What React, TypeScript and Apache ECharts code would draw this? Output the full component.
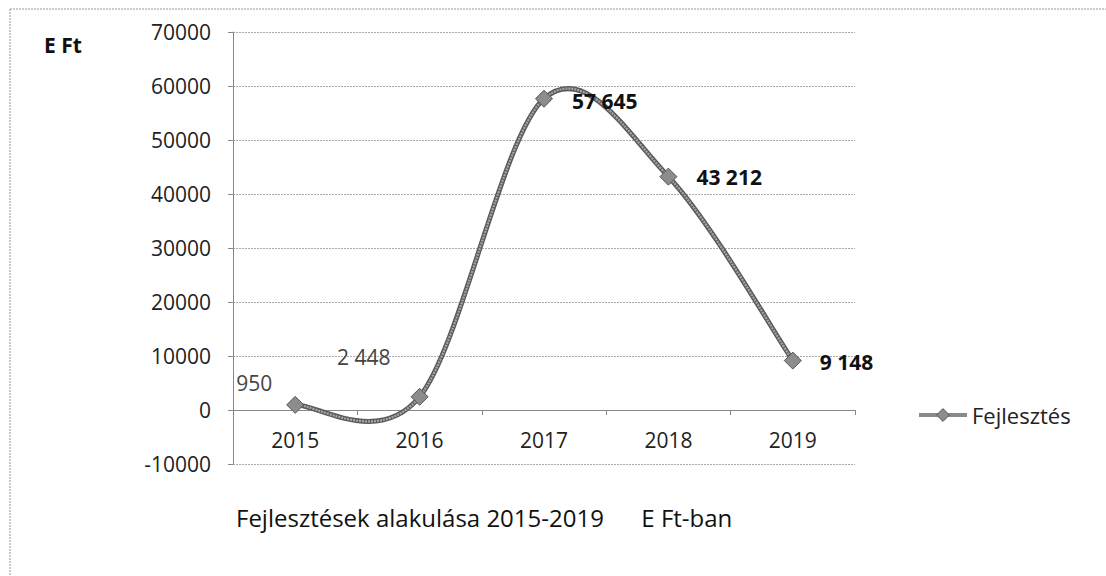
import React, { useEffect, useRef } from "react";
import * as echarts from "echarts";

const categories = ["2015", "2016", "2017", "2018", "2019"];
const values = [950, 2448, 57645, 43212, 9148];
const valueLabels = ["950", "2 448", "57 645", "43 212", "9 148"];
const seriesName = "Fejlesztés";
const unitLabel = "E Ft";
const titleText = "Fejlesztések alakulása 2015-2019      E Ft-ban";

const FONT = "'Open Sans', 'Noto Sans', sans-serif";

export default function App() {
  const ref = useRef<HTMLDivElement>(null);
  useEffect(() => {
    if (!ref.current) return;
    const chart = echarts.init(ref.current, undefined, { renderer: "svg" });
    const labelCfg: any[] = [
      { position: "left", offset: [-9, -22], color: "#444", fontWeight: "normal" },
      { position: "left", offset: [-15, -40], color: "#444", fontWeight: "normal" },
      { position: "right", offset: [14, 2], color: "#111", fontWeight: "bold" },
      { position: "right", offset: [14, 0], color: "#111", fontWeight: "bold" },
      { position: "right", offset: [13, 1], color: "#111", fontWeight: "bold" },
    ];
    const n = values.length;
    const renderCurve = (params: any, api: any) => {
      const i = params.dataIndex;
      if (i >= n - 1) return null;
      const p = (j: number) => {
        const k = Math.max(0, Math.min(n - 1, j));
        return api.coord([k, values[k]]);
      };
      const p0 = p(i - 1), p1 = p(i), p2 = p(i + 1), p3 = p(i + 2);
      const shape = {
        x1: p1[0], y1: p1[1],
        x2: p2[0], y2: p2[1],
        cpx1: p1[0] + (p2[0] - p0[0]) / 6,
        cpy1: p1[1] + (p2[1] - p0[1]) / 6,
        cpx2: p2[0] - (p3[0] - p1[0]) / 6,
        cpy2: p2[1] - (p3[1] - p1[1]) / 6,
      };
      return {
        type: "group",
        children: [
          { type: "bezierCurve", shape, style: { stroke: "#5a5a5a", lineWidth: 5, fill: "none" } },
          { type: "bezierCurve", shape, style: { stroke: "#a8a8a8", lineWidth: 2.2, fill: "none", lineDash: [2, 1] } },
        ],
      };
    };
    chart.setOption({
      animation: false,
      backgroundColor: "#fff",
      textStyle: { fontFamily: FONT },
      grid: { left: 233, right: 251, top: 32, bottom: 112 },
      legend: {
        left: 912,
        top: 399,
        itemWidth: 48,
        itemHeight: 16,
        itemGap: 4,
        textStyle: { fontFamily: FONT, fontSize: 22, color: "#222" },
        data: [
          {
            name: seriesName,
            lineStyle: { color: "#8a8a8a", width: 4, opacity: 1 },
            itemStyle: { color: "#8c8c8c", borderColor: "#555", borderWidth: 1 },
          },
        ],
      },
      graphic: [
        {
          type: "rect",
          shape: { x: 10, y: 9, width: 1120, height: 600 },
          style: { fill: "none", stroke: "#999", lineWidth: 1, lineDash: [2, 1] },
          silent: true,
        },
        {
          type: "text",
          left: 44,
          top: 34,
          style: { text: unitLabel, fontFamily: FONT, fontSize: 21, fontWeight: "bold", fill: "#111" },
        },
        {
          type: "text",
          left: 236,
          top: 505,
          style: { text: titleText, fontFamily: FONT, fontSize: 24, fill: "#111" },
        },
      ],
      xAxis: {
        type: "category",
        data: categories,
        boundaryGap: true,
        position: "bottom",
        offset: -54,
        axisLine: { onZero: false, lineStyle: { color: "#888", width: 1 } },
        axisTick: { show: true, inside: false, length: 5, lineStyle: { color: "#888" } },
        axisLabel: { margin: 19, fontSize: 21, color: "#222", fontFamily: FONT },
        splitLine: { show: false },
      },
      yAxis: {
        type: "value",
        min: -10000,
        max: 70000,
        interval: 10000,
        axisLine: { show: true, lineStyle: { color: "#888" } },
        axisTick: { show: true, length: 5, lineStyle: { color: "#888" } },
        axisLabel: { margin: 22, fontSize: 21, color: "#222", fontFamily: FONT, formatter: (v: number) => String(v) },
        splitLine: { show: true, lineStyle: { color: "#aaa", type: [2, 1], width: 1 } },
      },
      series: [
        {
          name: "curve",
          type: "custom",
          renderItem: renderCurve,
          data: values.map((v, i) => [i, v]),
          encode: { x: 0, y: 1 },
          z: 2,
          silent: true,
        },
        {
          name: seriesName,
          type: "line",
          symbol: "diamond",
          symbolSize: 17,
          z: 3,
          data: values.map((v, i) => ({
            value: v,
            label: { show: true, formatter: valueLabels[i], fontSize: 21, fontFamily: FONT, ...labelCfg[i] },
          })),
          lineStyle: { opacity: 0 },
          itemStyle: { color: "#8c8c8c", borderColor: "#555", borderWidth: 1 },
        },
      ],
    });
    return () => chart.dispose();
  }, []);
  return (
    <div
      ref={ref}
      style={{ position: "fixed", left: 0, top: 0, width: 1106, height: 576, background: "#fff" }}
    />
  );
}
